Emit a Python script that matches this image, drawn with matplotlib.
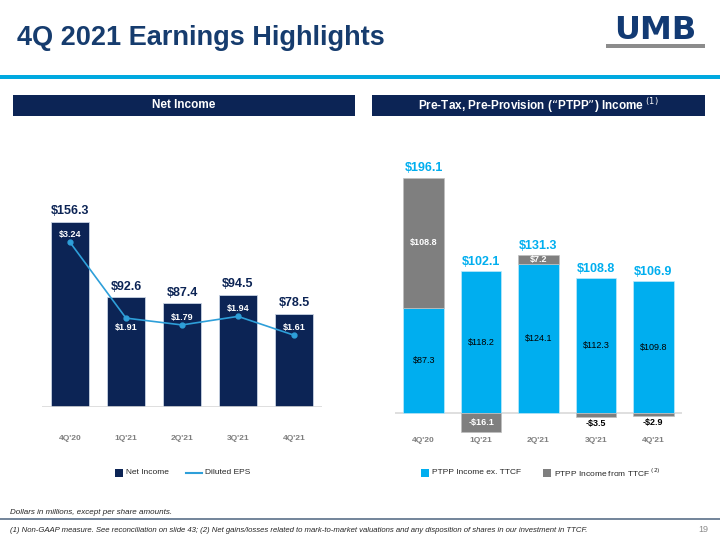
import matplotlib.pyplot as plt
from matplotlib.patches import Rectangle

plt.rcParams['font.family'] = ['Liberation Sans', 'DejaVu Sans']

quarters = ["4Q'20", "1Q'21", "2Q'21", "3Q'21", "4Q'21"]
net_income = [156.3, 92.6, 87.4, 94.5, 78.5]
diluted_eps = [3.24, 1.91, 1.79, 1.94, 1.61]
ptpp_ex_ttcf = [87.3, 118.2, 124.1, 112.3, 109.8]
ptpp_ttcf = [108.8, -16.1, 7.2, -3.5, -2.9]
ptpp_total = [196.1, 102.1, 131.3, 108.8, 106.9]

NAVY = '#0C2455'
LBLUE = '#00AEEF'
GRAY = '#7F7F7F'
EPS_C = '#2E9FD9'

W, H = 720, 540
fig = plt.figure(figsize=(7.2, 5.4), dpi=100)


def fx(px):
    return px / W


def fy(py):
    return 1 - py / H


# title and logo
fig.text(fx(17), fy(38), '4Q 2021 Earnings Highlights', fontsize=19.5, fontweight='heavy',
         color='#163C6E', va='center', ha='left')
fig.text(fx(655), fy(31), 'UMB', fontsize=23, fontweight='heavy', color='#123A73',
         va='center', ha='center', family='DejaVu Sans')
fig.patches.append(Rectangle((fx(606), fy(48)), fx(99), 4 / H, transform=fig.transFigure,
                             color='#8C8C8C', lw=0))
fig.patches.append(Rectangle((0, fy(79)), 1, 4 / H, transform=fig.transFigure,
                             color='#00A9E0', lw=0))

# header boxes
for x0, x1, label in [(13, 355, 'Net Income'),
                      (372, 705, 'Pre-Tax, Pre-Provision (“PTPP”) Income $^{(1)}$')]:
    fig.patches.append(Rectangle((fx(x0), fy(116)), fx(x1 - x0), 21 / H,
                                 transform=fig.transFigure, color=NAVY, lw=0))
    fig.text(fx((x0 + x1) / 2), fy(105.5), label, color='white', fontsize=8.5,
             fontweight='bold', ha='center', va='center')

# ---- left chart: net income + EPS ----
ax = fig.add_axes([fx(42), fy(407), fx(280), (407 - 150) / H])
x = list(range(len(quarters)))
ax.bar(x, net_income, width=0.69, color=NAVY, edgecolor='#C9D3E3', lw=0.6)
ax.set_xlim(-0.5, 4.5)
ax.set_ylim(0, 216.9)
ax.axhline(0, color='#D9D9D9', lw=1.2)
for i, v in enumerate(net_income):
    ax.text(i, v + 4, f'${v}', ha='center', va='bottom', fontsize=9,
            fontweight='bold', color=NAVY)
ax.set_xticks(x)
ax.set_xticklabels(quarters, fontsize=6, fontweight='bold', color='#7F7F7F')
ax.tick_params(length=0, pad=20)
ax.set_yticks([])
for s in ax.spines.values():
    s.set_visible(False)

ax2 = ax.twinx()
ax2.plot(x, diluted_eps, color=EPS_C, lw=1.2, marker='o', ms=3.5)
ax2.set_ylim(0.35, 4.86)
ax2.set_yticks([])
for s in ax2.spines.values():
    s.set_visible(False)
for i, v in enumerate(diluted_eps):
    if i == 1:
        ax2.text(i, v - 0.08, f'${v:.2f}', ha='center', va='top', fontsize=6.5,
                 fontweight='bold', color='white')
    else:
        ax2.text(i, v + 0.06, f'${v:.2f}', ha='center', va='bottom', fontsize=6.5,
                 fontweight='bold', color='white')

# ---- right chart: PTPP ----
bx = fig.add_axes([fx(395), fy(436), fx(287), (436 - 150) / H])
bx.bar(x, ptpp_ex_ttcf, width=0.71, color=LBLUE, edgecolor='#BFE9FA', lw=0.5)
bottoms = [b if t > 0 else 0 for b, t in zip(ptpp_ex_ttcf, ptpp_ttcf)]
bx.bar(x, ptpp_ttcf, bottom=bottoms, width=0.71, color=GRAY, edgecolor='#BFBFBF', lw=0.5)
bx.set_xlim(-0.5, 4.5)
bx.set_ylim(-(436 - 413) / 1.2, (413 - 150) / 1.2)
bx.axhline(0, color='#D9D9D9', lw=1.2, zorder=0)
for i in x:
    t = ptpp_ttcf[i]
    top = ptpp_ex_ttcf[i] + max(t, 0)
    bx.text(i, top + 3, f'${ptpp_total[i]}', ha='center', va='bottom',
            fontsize=9, fontweight='bold', color=LBLUE)
    bx.text(i, ptpp_ex_ttcf[i] / 2, f'${ptpp_ex_ttcf[i]}', ha='center', va='center',
            fontsize=6.5, color='black')
    lab = f'${t}' if t > 0 else f'-${-t}'
    if t > 0:
        bx.text(i, bottoms[i] + t / 2, lab, ha='center', va='center', fontsize=6.5,
                color='white', fontweight='bold')
    elif t < -10:
        bx.text(i, t / 2, lab, ha='center', va='center', fontsize=6.5,
                color='white', fontweight='bold')
    else:
        bx.text(i, t - 1.5, lab, ha='center', va='top', fontsize=6.5,
                color='black', fontweight='bold')
bx.set_xticks(x)
bx.set_xticklabels(quarters, fontsize=6, fontweight='bold', color='#7F7F7F')
bx.tick_params(length=0, pad=1)
bx.set_yticks([])
for s in bx.spines.values():
    s.set_visible(False)

# legends
def legend_square(px, color, label):
    fig.patches.append(Rectangle((fx(px), fy(477)), 8 / W, 8 / H,
                                 transform=fig.transFigure, color=color, lw=0))
    fig.text(fx(px + 11), fy(473), label, fontsize=6, color='#262626', va='center')


legend_square(115, NAVY, 'Net Income')
fig.lines.append(plt.Line2D([fx(186), fx(202)], [fy(473), fy(473)], transform=fig.transFigure,
                            color=EPS_C, lw=1.5))
fig.text(fx(205), fy(473), 'Diluted EPS', fontsize=6, color='#262626', va='center')
legend_square(421, LBLUE, 'PTPP Income ex. TTCF')
legend_square(543, GRAY, 'PTPP Income from TTCF $^{(2)}$')

# footer
fig.text(fx(10), fy(512), 'Dollars in millions, except per share amounts.', fontsize=5.8,
         style='italic', color='#262626', va='center')
fig.lines.append(plt.Line2D([0, 1], [fy(519), fy(519)], transform=fig.transFigure,
                            color='#5A7089', lw=1.2))
fig.text(fx(10), fy(530), '(1) Non-GAAP measure. See reconciliation on slide 43; (2) Net gains/losses '
         'related to mark-to-market valuations and any disposition of shares in our investment in TTCF.',
         fontsize=5.6, style='italic', color='#262626', va='center')
fig.text(fx(708), fy(530), '19', fontsize=6.5, color='#8C8C8C', va='center', ha='right')

fig.savefig('out.png', dpi=100)
